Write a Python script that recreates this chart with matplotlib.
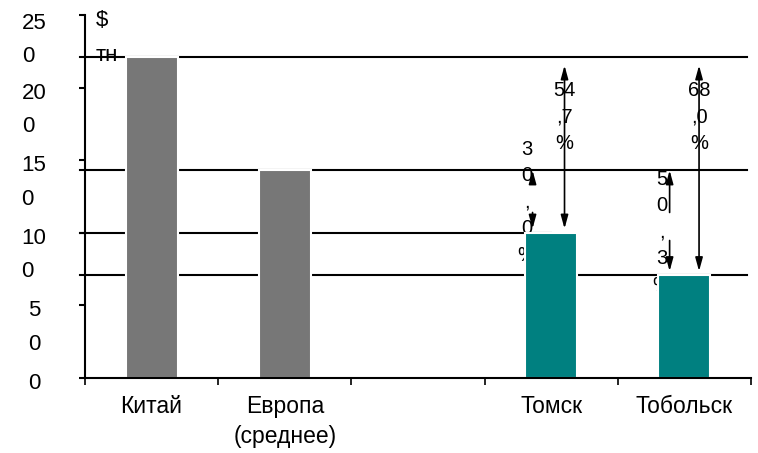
import matplotlib.pyplot as plt
import matplotlib.transforms as mtransforms
import numpy as np

plt.rcParams['font.family'] = ['Liberation Sans', 'DejaVu Sans']

# цены, $/тн
categories = ["Китай", "Европа\n(среднее)", "", "Томск", "Тобольск"]
values = [221, 143, np.nan, 100, 70.7]
bar_colors = ["#777777", "#777777", "white", "#008080", "#008080"]
y_ticks = [0, 50, 100, 150, 200, 250]
unit_label = "$\nтн"

# снижение относительно Китая и Европы
vs_china = ["54,7%", "68,0%"]
vs_europe = ["30,0%", "50,3%"]


def chop(s, n):
    # разбивка текста по n символов в строке
    return "\n".join(s[i:i + n] for i in range(0, len(s), n))


def tick_text(t):
    s = str(t)
    return s if len(s) == 1 else s[:-1] + "\n" + s[-1]


china, europe, _, tomsk, tobolsk = values

fig = plt.figure(figsize=(7.58, 4.53), dpi=100)
ax = fig.add_axes([85 / 758, 1 - 378 / 453, 666 / 758, 363 / 453])

x = np.arange(len(categories))
ax.bar(x, values, width=0.39, color=bar_colors, edgecolor='white',
       linewidth=1.5, zorder=3)

# горизонтальные уровни цен
for v in [china, europe, tobolsk]:
    ax.plot([-0.54, 4.47], [v, v], color='black', lw=1.5, zorder=1, clip_on=False)
ax.plot([-0.54, 3.0], [tomsk, tomsk], color='black', lw=1.5, zorder=1, clip_on=False)

head = dict(color='black', lw=1.2, mutation_scale=10)

# Томск и Тобольск против Китая
for xa, lab, target in [(3.10, vs_china[0], tomsk), (4.11, vs_china[1], tobolsk)]:
    ax.annotate('', xy=(xa, china), xytext=(xa, target),
                arrowprops=dict(arrowstyle='<|-|>,head_length=0.8,head_width=0.22',
                                shrinkA=3, shrinkB=6, **head), zorder=2)
    ax.text(xa, 180, chop(lab, 2), ha='center', va='center', fontsize=14.5,
            linespacing=1.5, zorder=2)

# Томск и Тобольск против Европы
for xa, xt, lab, target, up_len, low_from, yt in [
        (2.86, 2.816, vs_europe[0], tomsk, 9, tomsk + 14, 121),
        (3.889, 3.828, vs_europe[1], tobolsk, 29, tobolsk + 24, 100.5)]:
    ax.annotate('', xy=(xa, europe), xytext=(xa, europe - up_len),
                arrowprops=dict(arrowstyle='-|>,head_length=0.8,head_width=0.22',
                                shrinkA=0, shrinkB=0, **head), zorder=2)
    ax.annotate('', xy=(xa, target), xytext=(xa, low_from),
                arrowprops=dict(arrowstyle='-|>,head_length=0.8,head_width=0.22',
                                shrinkA=0, shrinkB=3, **head), zorder=2)
    ax.text(xt, yt, chop(lab, 1), ha='center', va='center', fontsize=14.5,
            linespacing=1.5, zorder=2)

ax.set_xlim(-0.5, 4.5)
ax.set_ylim(0, 250)

# подписи оси Y, перенесённые по строкам
ax.set_yticks(y_ticks)
ax.set_yticklabels([])
ax.tick_params(axis='y', direction='out', length=4, width=1.5)
for t in y_ticks:
    dy = 2 if t == y_ticks[-1] else 5
    ytrans = mtransforms.offset_copy(ax.get_yaxis_transform(), fig=fig, x=0,
                                     y=dy, units='dots')
    ax.text(-0.0765, t, tick_text(t), transform=ytrans, ha='center', va='top',
            multialignment='left', fontsize=16, linespacing=1.78, clip_on=False)

ax.set_xticks(np.arange(-0.5, 5, 1.0))
ax.set_xticklabels([])
ax.set_xticks(x, categories, minor=True, fontsize=16.5, linespacing=1.4)
ax.tick_params(axis='x', which='major', direction='out', length=5, width=1.2)
ax.tick_params(axis='x', which='minor', length=0, pad=12)

for side in ['top', 'right']:
    ax.spines[side].set_visible(False)
for side in ['left', 'bottom']:
    ax.spines[side].set_linewidth(1.5)
    ax.spines[side].set_zorder(4)

fig.text(96 / 758, 1 - 10 / 453, unit_label, ha='left', va='top', fontsize=16,
         linespacing=1.9)

fig.savefig('out.png', dpi=100)
